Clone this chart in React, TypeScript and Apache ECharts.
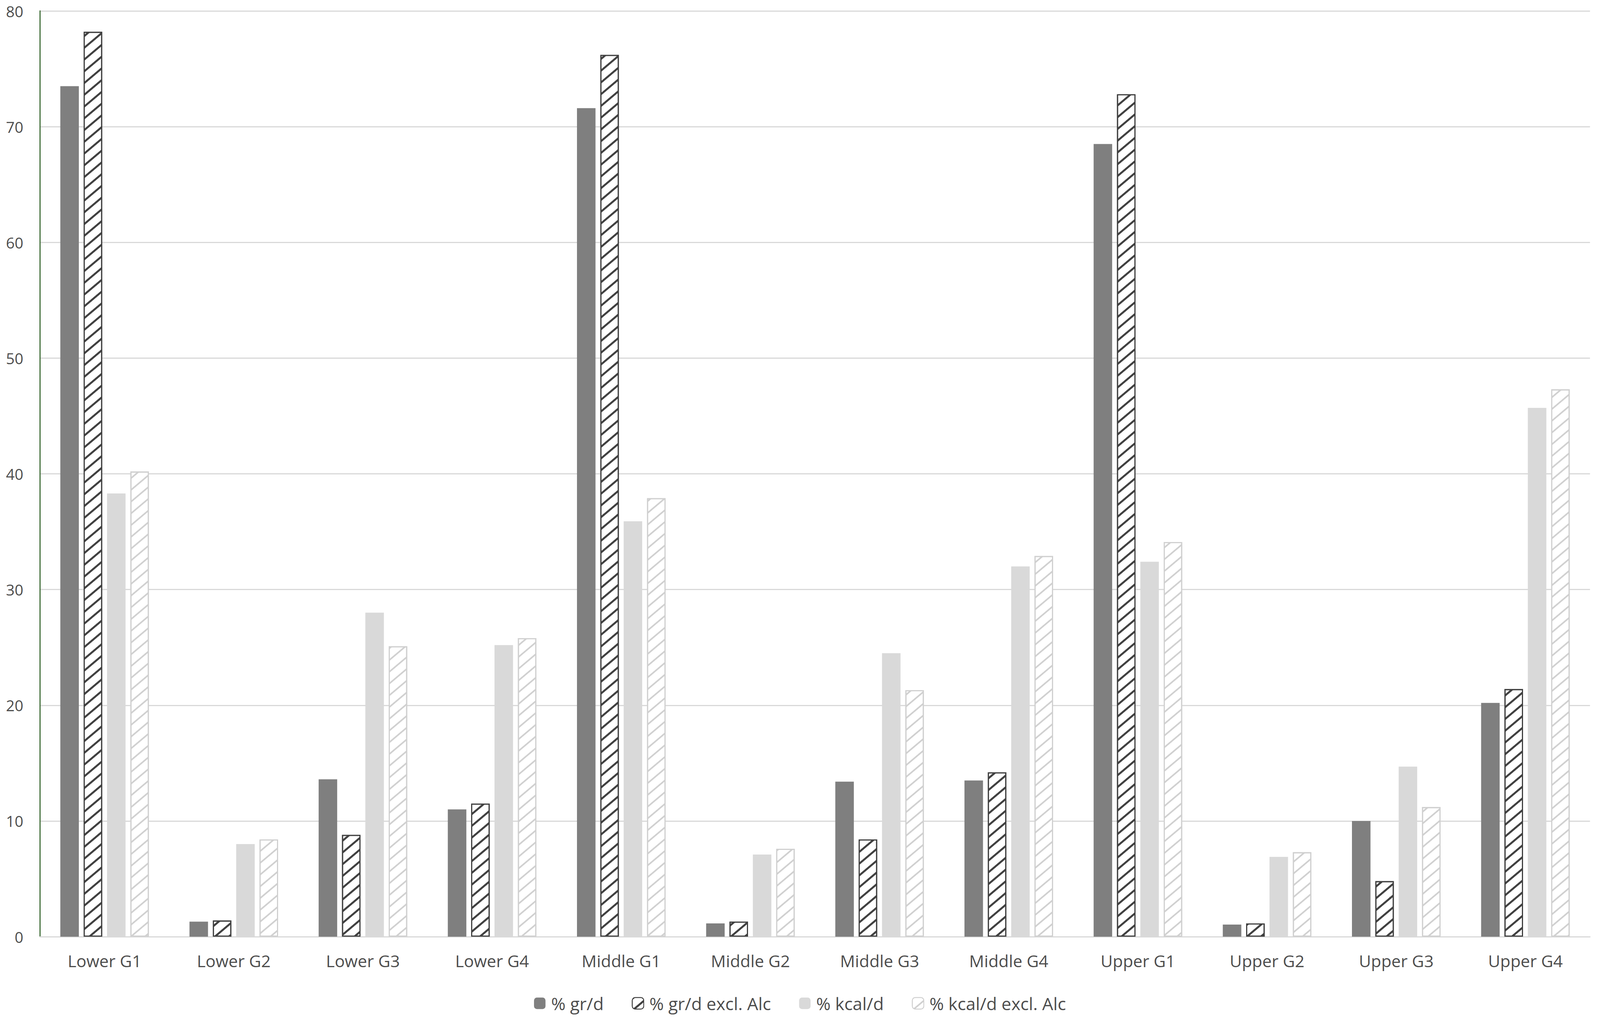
import React, { useEffect, useRef } from "react";
import * as echarts from "echarts";

const categories = [
  "Lower G1", "Lower G2", "Lower G3", "Lower G4",
  "Middle G1", "Middle G2", "Middle G3", "Middle G4",
  "Upper G1", "Upper G2", "Upper G3", "Upper G4",
];
const seriesNames = ["% gr/d", "% gr/d excl. Alc", "% kcal/d", "% kcal/d excl. Alc"];
const grPerDay = [73.5, 1.3, 13.6, 11.0, 71.6, 1.15, 13.4, 13.5, 68.5, 1.05, 10.0, 20.2];
const grPerDayExclAlc = [78.2, 1.4, 8.8, 11.5, 76.2, 1.3, 8.4, 14.2, 72.8, 1.15, 4.8, 21.4];
const kcalPerDay = [38.3, 8.0, 28.0, 25.2, 35.9, 7.1, 24.5, 32.0, 32.4, 6.9, 14.7, 45.7];
const kcalPerDayExclAlc = [40.2, 8.4, 25.1, 25.8, 37.9, 7.6, 21.3, 32.9, 34.1, 7.3, 11.2, 47.3];

const FONT = "'Open Sans', 'Liberation Sans', sans-serif";
const TEXT = "#4d4d4d";

export default function App() {
  const ref = useRef<HTMLDivElement>(null);
  useEffect(() => {
    document.body.style.margin = "0";
    document.body.style.overflow = "hidden";
    document.documentElement.style.overflow = "hidden";
    const el = ref.current;
    if (!el) return;
    const W = document.documentElement.clientWidth || window.innerWidth;
    const H = document.documentElement.clientHeight || window.innerHeight;
    el.style.width = W + "px";
    el.style.height = H + "px";
    const sx = W / 4317;
    const sy = H / 2623;
    const s = Math.min(sx, sy);
    const chart = echarts.init(el, undefined, { renderer: "svg", width: W, height: H });
    const hatch = (color: string, w: number) => ({
      symbol: "rect",
      symbolSize: 1,
      dashArrayX: [1, 0],
      dashArrayY: [w * s, (23 - w) * s],
      rotation: -0.7,
      color,
    });
    const base = {
      type: "bar" as const,
      barWidth: 50 * sx,
      barGap: "26%",
    };
    chart.setOption({
      animation: false,
      backgroundColor: "#ffffff",
      textStyle: { fontFamily: FONT },
      grid: { left: 108 * sx, right: 27 * sx, top: 28 * sy, bottom: 226 * sy, containLabel: false },
      xAxis: {
        type: "category",
        data: categories,
        axisLine: { lineStyle: { color: "#d9d9d9", width: 3 * s } },
        axisTick: { show: false },
        axisLabel: { color: TEXT, fontSize: 45 * s, fontFamily: FONT, margin: 40 * sy, lineHeight: 46 * s },
      },
      yAxis: {
        type: "value",
        min: 0,
        max: 80,
        interval: 10,
        axisLine: { show: true, lineStyle: { color: "#3d6b35", width: 3 * s } },
        axisTick: { show: false },
        splitLine: { lineStyle: { color: "#d9d9d9", width: 3 * s } },
        axisLabel: { color: TEXT, fontSize: 41 * s, fontFamily: FONT, margin: 45 * sx },
      },
      legend: {
        data: seriesNames,
        bottom: 28 * sy,
        left: "center",
        itemWidth: 31 * s,
        itemHeight: 31 * s,
        itemGap: 76 * sx,
        textStyle: { color: TEXT, fontSize: 47 * s, fontFamily: FONT, padding: [0, 0, 0, 10 * s] },
      },
      series: [
        {
          ...base,
          name: seriesNames[0],
          data: grPerDay,
          itemStyle: { color: "#7f7f7f" },
        },
        {
          ...base,
          name: seriesNames[1],
          data: grPerDayExclAlc,
          itemStyle: {
            color: "#ffffff",
            borderColor: "#404040",
            borderWidth: 3 * s,
            decal: hatch("#404040", 5),
          },
        },
        {
          ...base,
          name: seriesNames[2],
          data: kcalPerDay,
          itemStyle: { color: "#d9d9d9" },
        },
        {
          ...base,
          name: seriesNames[3],
          data: kcalPerDayExclAlc,
          itemStyle: {
            color: "#ffffff",
            borderColor: "#d0d0d0",
            borderWidth: 3 * s,
            decal: hatch("#d0d0d0", 4),
          },
        },
      ],
    });
    return () => chart.dispose();
  }, []);
  return <div ref={ref} style={{ width: 4317, height: 2623 }} />;
}
